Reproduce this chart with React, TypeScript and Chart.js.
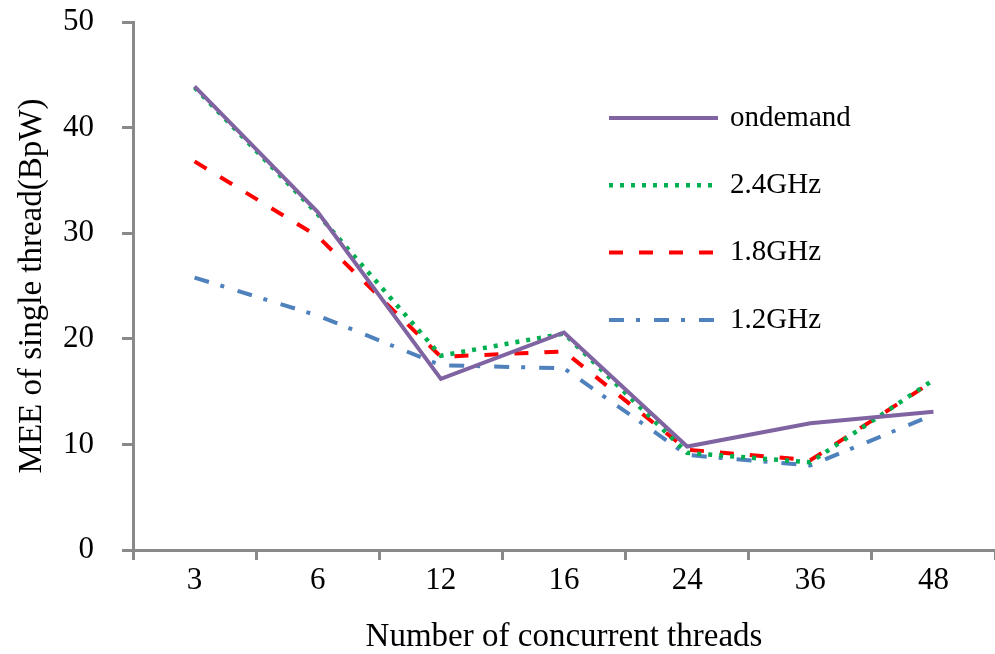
import React, { useEffect, useRef } from "react";
import { Chart, registerables } from "chart.js";

Chart.register(...registerables);

const threadCounts = ["3", "6", "12", "16", "24", "36", "48"];
const ondemand = [43.9, 32.0, 16.2, 20.6, 9.8, 12.0, 13.1];
const ghz24 = [43.8, 31.8, 18.4, 20.5, 9.2, 8.3, 16.1];
const ghz18 = [36.8, 29.7, 18.3, 18.8, 9.5, 8.5, 16.0];
const ghz12 = [25.8, 22.2, 17.5, 17.2, 9.0, 8.0, 12.8];
const yTicks = [0, 10, 20, 30, 40, 50];

const FONT = "'Liberation Serif', 'Times New Roman', serif";
const AXIS_GREY = "#898989";

// Vertical legend drawn inside the plot, to the upper right
const sideLegend = {
  id: "sideLegend",
  afterDatasetsDraw(chart: any) {
    const { ctx, chartArea } = chart;
    const x0 = chartArea.left + 476;
    const lineLen = 109;
    const y0 = chartArea.top + 96;
    const gap = 67.3;
    ctx.save();
    chart.data.datasets.forEach((ds: any, i: number) => {
      const y = y0 + i * gap;
      ctx.beginPath();
      ctx.strokeStyle = ds.borderColor;
      ctx.lineWidth = ds.borderWidth;
      ctx.lineCap = "butt";
      ctx.setLineDash(ds.borderDash || []);
      ctx.moveTo(x0, y);
      ctx.lineTo(x0 + lineLen, y);
      ctx.stroke();
      ctx.setLineDash([]);
      ctx.fillStyle = "#000";
      ctx.font = `29px ${FONT}`;
      ctx.textBaseline = "middle";
      ctx.textAlign = "left";
      ctx.fillText(ds.label, x0 + lineLen + 12, y);
    });
    ctx.restore();
  },
};

export default function App() {
  const canvasRef = useRef<HTMLCanvasElement | null>(null);

  useEffect(() => {
    if (!canvasRef.current) return;
    const chart = new Chart(canvasRef.current, {
      type: "line",
      data: {
        labels: threadCounts,
        datasets: [
          {
            label: "ondemand",
            data: ondemand,
            borderColor: "#8064A2",
            borderWidth: 4,
            pointRadius: 0,
            tension: 0,
          },
          {
            label: "2.4GHz",
            data: ghz24,
            borderColor: "#00B050",
            borderWidth: 4.5,
            borderDash: [4, 7],
            pointRadius: 0,
            tension: 0,
          },
          {
            label: "1.8GHz",
            data: ghz18,
            borderColor: "#FF0000",
            borderWidth: 4,
            borderDash: [14, 16],
            pointRadius: 0,
            tension: 0,
          },
          {
            label: "1.2GHz",
            data: ghz12,
            borderColor: "#4F81BD",
            borderWidth: 4,
            borderDash: [15, 12, 4, 14],
            pointRadius: 0,
            tension: 0,
          },
        ],
      },
      options: {
        animation: false,
        responsive: false,
        maintainAspectRatio: false,
        layout: { padding: { top: 22, right: 0, left: 0, bottom: 0 } },
        plugins: {
          legend: { display: false },
          tooltip: { enabled: false },
        },
        scales: {
          x: {
            type: "category",
            offset: true,
            grid: {
              offset: true,
              drawOnChartArea: false,
              drawTicks: true,
              tickLength: 10,
              color: AXIS_GREY,
              lineWidth: 3,
            },
            border: { display: true, color: AXIS_GREY, width: 3 },
            ticks: {
              color: "#000",
              font: { family: FONT, size: 31 },
              padding: 2,
              maxRotation: 0,
            },
            title: {
              display: true,
              text: "Number of concurrent threads",
              color: "#000",
              font: { family: FONT, size: 33, lineHeight: 1 },
              padding: { top: 0, bottom: 0 },
            },
            afterFit(scale: any) {
              scale.height = 104;
              scale.paddingLeft = 0;
              scale.paddingRight = 0;
            },
          },
          y: {
            min: 0,
            max: 50,
            afterBuildTicks(scale: any) {
              scale.ticks = yTicks.map((v) => ({ value: v }));
            },
            grid: {
              drawOnChartArea: false,
              drawTicks: true,
              tickLength: 11,
              color: AXIS_GREY,
              lineWidth: 3,
            },
            border: { display: true, color: AXIS_GREY, width: 3 },
            ticks: {
              color: "#000",
              font: { family: FONT, size: 31 },
              padding: 28,
            },
            title: {
              display: true,
              text: "MEE of single thread(BpW)",
              color: "#000",
              font: { family: FONT, size: 33, lineHeight: 1 },
              padding: { top: 16, bottom: 0 },
            },
            afterFit(scale: any) {
              scale.width = 133;
              scale.paddingTop = 0;
              scale.paddingBottom = 0;
            },
          },
        },
      },
      plugins: [sideLegend],
    });
    return () => chart.destroy();
  }, []);

  return (
    <div style={{ position: "absolute", left: 0, top: 0, width: 995, height: 654, background: "#fff" }}>
      <canvas ref={canvasRef} width={995} height={654} style={{ width: 995, height: 654, display: "block" }} />
    </div>
  );
}
